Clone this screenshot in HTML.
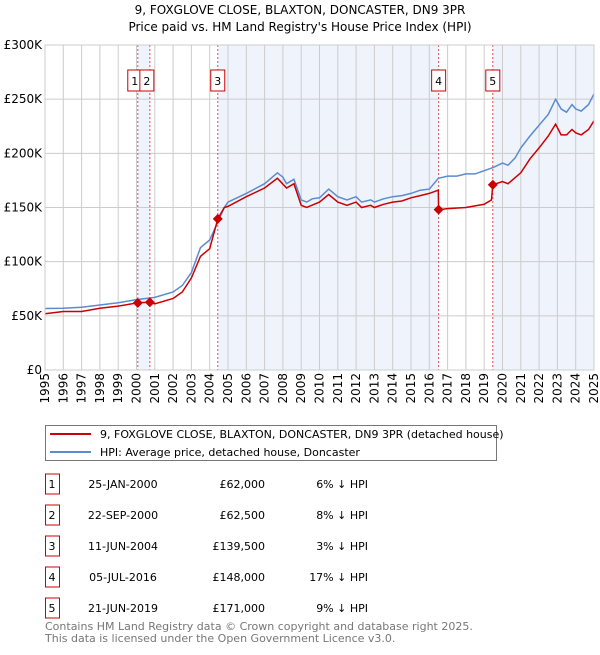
<!DOCTYPE html>
<html><head><meta charset="utf-8"><style>
body{margin:0;background:#fff;font-family:"Liberation Sans","DejaVu Sans",sans-serif;}
svg text{font-family:"DejaVu Sans","Liberation Sans",sans-serif;}
</style></head><body>
<svg id="c" width="600" height="650" xmlns="http://www.w3.org/2000/svg">
<text x="300" y="14" text-anchor="middle" font-size="12">9, FOXGLOVE CLOSE, BLAXTON, DONCASTER, DN9 3PR</text>
<text x="300" y="31" text-anchor="middle" font-size="12">Price paid vs. HM Land Registry's House Price Index (HPI)</text>
<g id="plot"></g>
<g>
<rect x="45.5" y="425.5" width="451" height="35" fill="#fff" stroke="#777"/>
<line x1="50" y1="434" x2="91" y2="434" stroke="#cc0000" stroke-width="2"/>
<text x="100" y="438" font-size="11">9, FOXGLOVE CLOSE, BLAXTON, DONCASTER, DN9 3PR (detached house)</text>
<line x1="50" y1="452" x2="91" y2="452" stroke="#5b8bd0" stroke-width="2"/>
<text x="100" y="456" font-size="11">HPI: Average price, detached house, Doncaster</text>
</g>
<g id="table"></g>
<text x="45" y="630" font-size="11" fill="#777">Contains HM Land Registry data © Crown copyright and database right 2025.</text>
<text x="45" y="642" font-size="11" fill="#777">This data is licensed under the Open Government Licence v3.0.</text>
</svg>
<script>
const yTicks=[0,50,100,150,200,250,300];
const yTickLabels=["£0","£50K","£100K","£150K","£200K","£250K","£300K"];
const years=[1995,1996,1997,1998,1999,2000,2001,2002,2003,2004,2005,2006,2007,2008,2009,2010,2011,2012,2013,2014,2015,2016,2017,2018,2019,2020,2021,2022,2023,2024,2025];
const hpiT=[1995,1996,1997,1998,1999,2000,2001,2002,2002.5,2003,2003.5,2004,2004.4,2004.8,2005,2006,2007,2007.7,2008,2008.2,2008.6,2009,2009.3,2009.6,2010,2010.5,2011,2011.5,2012,2012.3,2012.8,2013,2013.5,2014,2014.5,2015,2015.5,2016,2016.5,2017,2017.5,2018,2018.5,2019,2019.5,2020,2020.3,2020.7,2021,2021.5,2022,2022.5,2022.9,2023.2,2023.5,2023.8,2024,2024.3,2024.7,2025];
const hpiV=[56.8,57,58,60,62,65,67,72,78,90,113,120,135,150,155,163,172,182,178,172,176,157,155,158,159,167,160,157,160,155,157,155,158,160,161,163,166,167,177,179,179,181,181,184,187,191,189,196,205,216,226,236,250,241,238,245,241,239,245,255];
const priceT=[1995,1996,1997,1998,1999,2000.07,2000.73,2001,2002,2002.5,2003,2003.5,2004,2004.44,2004.8,2005,2006,2007,2007.7,2008.2,2008.6,2009,2009.3,2010,2010.5,2011,2011.5,2012,2012.3,2012.8,2013,2013.5,2014,2014.5,2015,2015.5,2016,2016.49,2016.51,2017,2018,2019,2019.4,2019.47,2020,2020.3,2021,2021.5,2022,2022.5,2022.9,2023.2,2023.5,2023.8,2024,2024.3,2024.7,2025];
const priceV=[52,54,54,57,59,62,62.5,61,66,72,85,105,112,139.5,150,151,160,168,177,168,172,152,150,155,162,155,152,155,150,152,150,153,155,156,159,161,163,166,148,149,150,153,157,171,174,172,182,195,205,216,227,217,217,222,219,217,222,230];
const saleIds=["1","2","3","4","5"];
const saleT=[2000.07,2000.73,2004.44,2016.51,2019.47];
const saleV=[62,62.5,139.5,148,171];
const saleDates=["25-JAN-2000","22-SEP-2000","11-JUN-2004","05-JUL-2016","21-JUN-2019"];
const salePrices=["£62,000","£62,500","£139,500","£148,000","£171,000"];
const saleDiffs=["6% ↓ HPI","8% ↓ HPI","3% ↓ HPI","17% ↓ HPI","9% ↓ HPI"];

const NS="http://www.w3.org/2000/svg";
const L=45,R=594,T=45,B=370;
const xS=t=>L+(t-1995)/30*(R-L);
const yS=v=>B-v/300*(B-T);
const plot=document.getElementById('plot');
function mk(tag,attrs,parent){const e=document.createElementNS(NS,tag);for(const k in attrs)e.setAttribute(k,attrs[k]);(parent||plot).appendChild(e);return e;}
const shadeEnds=[[saleT[0],saleT[1]],[saleT[2],saleT[3]],[saleT[4],2025]];
shadeEnds.forEach(s=>{const r=mk('rect',{x:xS(s[0]),y:T,width:xS(s[1])-xS(s[0]),height:B-T,fill:'#eef3fc'});

});
years.forEach(y=>{const l=mk('line',{x1:xS(y),x2:xS(y),y1:T,y2:B,stroke:'#ccc','stroke-width':1});


const t=mk('text',{x:0,y:0,'font-size':12,transform:`translate(${xS(y)+4},${B+3}) rotate(-90)`,'text-anchor':'end'});
t.textContent=y;

});
yTicks.forEach((v,i)=>{const l=mk('line',{x1:L,x2:R,y1:yS(v),y2:yS(v),stroke:'#ccc','stroke-width':1});


const t=mk('text',{x:L-3,y:yS(v)+4,'font-size':12,'text-anchor':'end'});
t.textContent=yTickLabels[i];

});
saleT.forEach((t,i)=>{const l=mk('line',{x1:xS(t),x2:xS(t),y1:T,y2:B,stroke:'#e05050','stroke-width':1,'stroke-dasharray':'2,2'});


const bx=(i==0)?xS(t)-10:(i==1)?xS(t)-10:xS(t)-7;
const r=mk('rect',{x:bx,y:T+25,width:14,height:21,fill:'#fff',stroke:'#cc0000'});


const tx=mk('text',{x:bx+7,y:T+40,'font-size':11,'text-anchor':'middle'});
tx.textContent=saleIds[i];

});
const pts=(ts,vs)=>ts.map((t,i)=>xS(t).toFixed(1)+','+yS(vs[i]).toFixed(1)).join(' ');
const h=mk('polyline',{points:pts(hpiT,hpiV),fill:'none',stroke:'#5b8bd0','stroke-width':1.5});


const p=mk('polyline',{points:pts(priceT,priceV),fill:'none',stroke:'#cc0000','stroke-width':1.5});


saleT.forEach((t,i)=>{const x=xS(t),y=yS(saleV[i]);
const d=mk('polygon',{points:`${x},${y-5} ${x+5},${y} ${x},${y+5} ${x-5},${y}`,fill:'#cc0000'});

});
mk('rect',{x:L,y:T,width:R-L,height:B-T,fill:'none',stroke:'#ccc'});
const tb=document.getElementById('table');
saleIds.forEach((id,i)=>{const cy=484+i*31;
const r=mk('rect',{x:45.5,y:cy-10,width:14,height:20,fill:'#fff',stroke:'#cc0000'},tb);


const cells=[[52,'middle',id,'row-number'],[123,'middle',saleDates[i],'sale-date'],[265,'end',salePrices[i],'sale-price'],[368,'end',saleDiffs[i],'hpi-diff']];
cells.forEach(c=>{const t=mk('text',{x:c[0],y:cy+4,'font-size':11,'text-anchor':c[1]},tb);
t.textContent=c[2];

});});
</script>
</body></html>
